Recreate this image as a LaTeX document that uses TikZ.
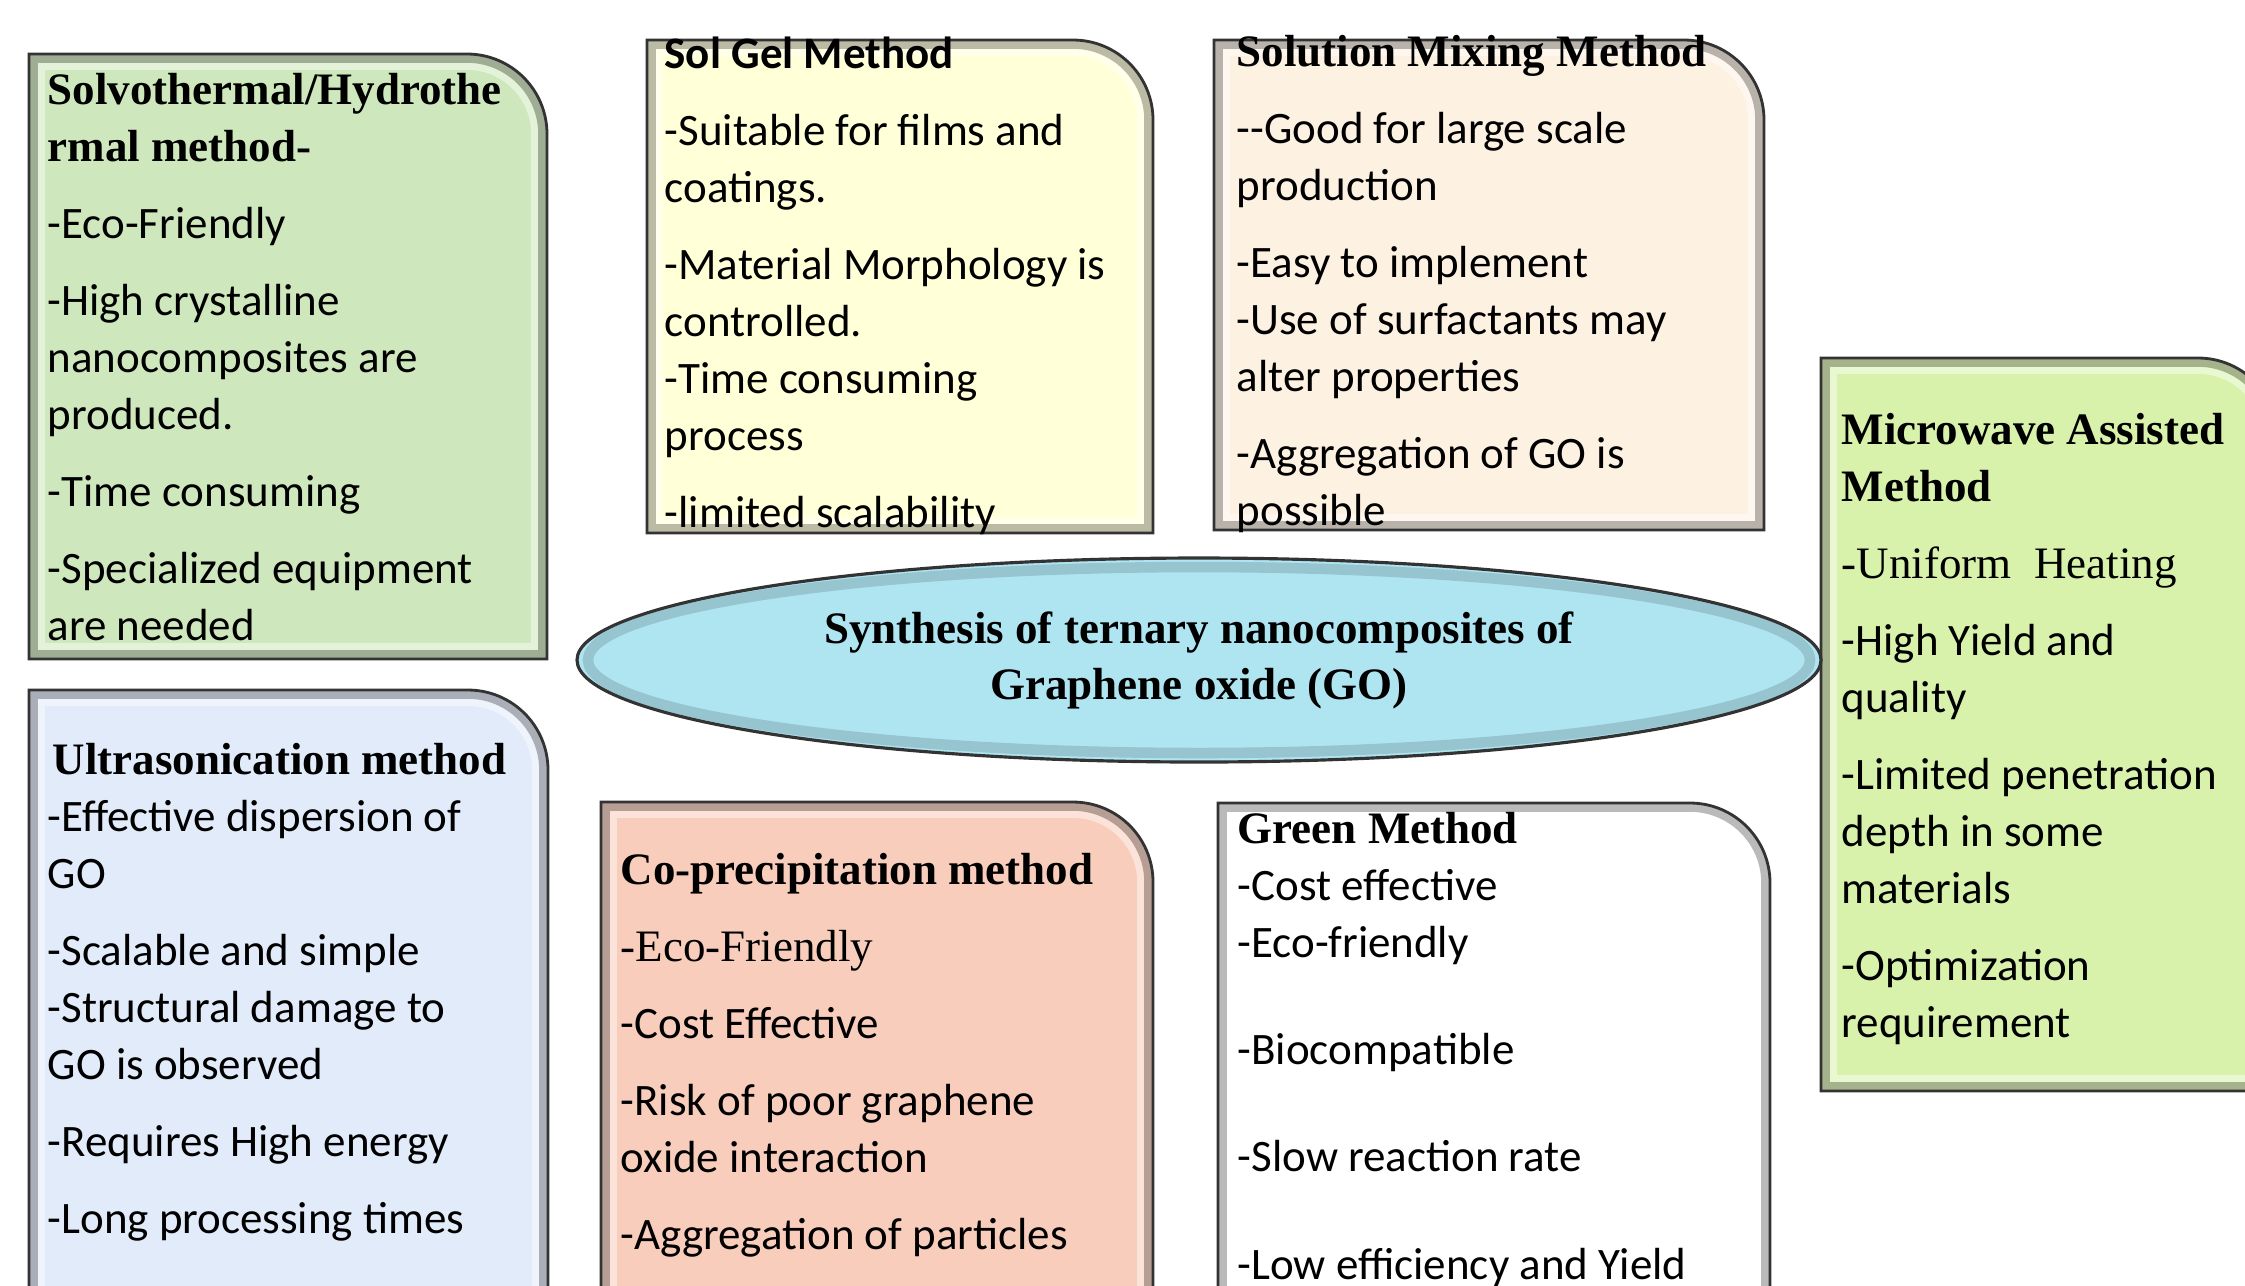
\documentclass[tikz,border=0pt]{standalone}
\usepackage{fontspec}
\setmainfont{Carlito}
\newfontfamily\headfont{Liberation Serif}
\usetikzlibrary{shapes.geometric}

\definecolor{solvofill}{RGB}{206,231,188}
\definecolor{solgelfill}{RGB}{255,255,216}
\definecolor{mixfill}{RGB}{253,241,226}
\definecolor{microfill}{RGB}{216,242,172}
\definecolor{ultrafill}{RGB}{226,235,250}
\definecolor{coprecfill}{RGB}{249,205,188}
\definecolor{corefill}{RGB}{175,228,241}

\tikzset{
    bodytext/.style = {anchor=base west, align=left, inner sep=0, text=black, font=\fontsize{12.8}{16.2}\selectfont}, % base = last line
    corenode/.style = {ellipse, draw=black!80, line width=0.9pt, fill=corefill, inner sep=0,
                       minimum width=124.4mm, minimum height=20.4mm, align=center, text=black,
                       font=\headfont\bfseries\fontsize{12.8}{15.9}\selectfont},
    corerim/.style = {line width=3pt, corefill!60!black, opacity=0.35}
}

% box outline: square corners except the top right one
\newcommand{\boxpath}[4]{(#1,#4) -- (#1,#2) -- ({#3-80},#2) arc[start angle=-90, end angle=0, radius=80] -- (#3,#4) -- cycle}
\newcommand{\methodbox}[5]{%
  \fill[#5] \boxpath{#1}{#2}{#3}{#4};
  \begin{scope}
    \clip \boxpath{#1}{#2}{#3}{#4};
    \draw[line width=9pt, #5!55!white] \boxpath{#1}{#2}{#3}{#4};
    \draw[line width=5pt, #5!55!black, opacity=0.6] \boxpath{#1}{#2}{#3}{#4};
  \end{scope}
  \draw[black!80, line width=0.8pt] \boxpath{#1}{#2}{#3}{#4};
}
\newcommand{\gapskip}{5.7pt}

\begin{document}
\begin{tikzpicture}[x=0.1mm, y=-0.1mm]
\clip (0,0) rectangle (2245,1285);
\fill[white] (0,0) rectangle (2245,1285);

% the seven method boxes
\methodbox{29}{54}{547}{659}{solvofill}
\methodbox{647}{40}{1153}{533}{solgelfill}
\methodbox{1214}{40}{1764}{530}{mixfill}
\methodbox{1821}{358}{2278}{1091}{microfill}
\methodbox{29}{690}{548}{1320}{ultrafill}
\methodbox{601}{802}{1153}{1320}{coprecfill}
\methodbox{1218}{803}{1770}{1320}{white}

% centre
\node[corenode] at (1199,660) (core) {Synthesis of ternary nanocomposites of\\ Graphene oxide (GO)};
\draw[corerim] (core.center) ellipse [x radius=611, y radius=93];

\node[bodytext] at (47,640) (solvo) {{\headfont\bfseries Solvothermal/Hydrothe}\\
  {\headfont\bfseries rmal method-}\\[\gapskip]
  -Eco-Friendly\\[\gapskip]
  -High crystalline\\
  nanocomposites are\\
  produced.\\[\gapskip]
  -Time consuming\\[\gapskip]
  -Specialized equipment\\
  are needed};

\node[bodytext] at (664,527) (solgel) {\textbf{Sol Gel Method}\\[\gapskip]
  -Suitable for films and\\
  coatings.\\[\gapskip]
  -Material Morphology is\\
  controlled.\\
  -Time consuming\\
  process\\[\gapskip]
  -limited scalability};

\node[bodytext] at (1236,525) (mixing) {{\headfont\bfseries Solution Mixing Method}\\[\gapskip]
  -{}-Good for large scale\\
  production\\[\gapskip]
  -Easy to implement\\
  -Use of surfactants may\\
  alter properties\\[\gapskip]
  -Aggregation of GO is\\
  possible};

\node[bodytext] at (1841,1037) (micro) {{\headfont\bfseries Microwave Assisted}\\
  {\headfont\bfseries Method}\\[\gapskip]
  {\headfont -Uniform\ \ Heating}\\[\gapskip]
  -High Yield and\\
  quality\\[\gapskip]
  -Limited penetration\\
  depth in some\\
  materials\\[\gapskip]
  -Optimization\\
  requirement};

\node[bodytext] at (47,1233) (ultra) {\hspace{1.4pt}{\headfont\bfseries Ultrasonication method}\\
  -Effective dispersion of\\
  GO\\[\gapskip]
  -Scalable and simple\\
  -Structural damage to\\
  GO is observed\\[\gapskip]
  -Requires High energy\\[\gapskip]
  -Long processing times};

\node[bodytext] at (620,1249) (coprec) {{\headfont\bfseries Co-precipitation method}\\[\gapskip]
  {\headfont -Eco-Friendly}\\[\gapskip]
  -Cost Effective\\[\gapskip]
  -Risk of poor graphene\\
  oxide interaction\\[\gapskip]
  -Aggregation of particles};

\node[bodytext] at (1237,1279) (green) {{\headfont\bfseries Green Method}\\
  -Cost effective\\
  -Eco-friendly\\[14.3pt]
  -Biocompatible\\[14.3pt]
  -Slow reaction rate\\[14.3pt]
  -Low efficiency and Yield};

\end{tikzpicture}
\end{document}
